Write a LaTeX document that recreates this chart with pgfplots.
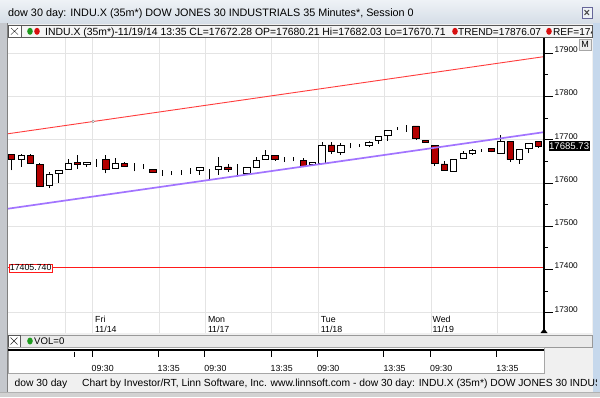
\documentclass[border=0pt]{standalone}
\usepackage{fontspec}
\setmainfont{Liberation Sans}
\usepackage{pgfplots}
\usepackage{pgfplotstable}
\pgfplotsset{compat=1.18}
\definecolor{gridc}{HTML}{E4E4E4}
\definecolor{candred}{HTML}{B30000}
\definecolor{trendred}{HTML}{FF3C3C}
\definecolor{purp}{HTML}{A274FF}
\definecolor{refline}{HTML}{FF1A1A}
\definecolor{winbg}{HTML}{F0F0F0}
\definecolor{titletop}{HTML}{EEF2F6}
\definecolor{titlebot}{HTML}{D6DEE7}
\definecolor{legbg}{HTML}{F5F5F5}
\definecolor{volbg}{HTML}{EAEAEA}
\definecolor{leftc}{HTML}{C5C8CD}
\definecolor{rightc}{HTML}{C6D8EC}
\definecolor{dotgreen}{HTML}{1E9A1E}
\definecolor{dotred}{HTML}{D81010}
\newcommand\fs[1]{\fontsize{#1}{#1}\selectfont}

% bars with close >= open (white) : i open high low close
\pgfplotstableread{
i o h l c
1 17654 17667 17637 17663
4 17594 17625 17588 17621
5 17623 17631 17600 17629
6 17632 17655 17631 17646
8 17644 17649 17638 17648
9 17655 17655 17637 17655
11 17634 17658 17634 17646
13 17637 17646 17627 17637
14 17637 17645 17632 17637
16 17623 17629 17617 17623
17 17623 17628 17618 17623
18 17624 17629 17618 17624
19 17626 17634 17621 17626
20 17629 17636 17619 17636
21 17633 17633 17608 17633
22 17632 17659 17619 17638
24 17629 17644 17615 17629
25 17623 17636 17619 17636
26 17637 17661 17637 17652
27 17654 17677 17654 17663
29 17653 17659 17648 17653
30 17656 17661 17650 17656
32 17642 17649 17640 17648
33 17645 17695 17645 17688
35 17671 17692 17665 17686
36 17687 17692 17680 17687
37 17687 17690 17683 17687
38 17688 17696 17683 17695
39 17698 17709 17691 17708
40 17709 17721 17698 17721
41 17726 17730 17722 17726
42 17731 17734 17719 17731
47 17627 17656 17626 17655
48 17658 17673 17655 17669
49 17669 17678 17665 17675
50 17677 17679 17672 17677
52 17669 17711 17668 17696
54 17655 17679 17645 17678
55 17681 17693 17669 17692
}\upbars
% bars with close < open (red)
\pgfplotstableread{
i o h l c
0 17667 17667 17629 17654
2 17663 17667 17646 17646
3 17642 17646 17592 17592
7 17648 17664 17632 17643
10 17655 17665 17622 17632
12 17645 17649 17637 17638
15 17632 17633 17623 17624
23 17637 17644 17626 17631
28 17664 17665 17652 17655
31 17652 17658 17636 17638
34 17688 17695 17667 17672
43 17732 17732 17700 17702
44 17698 17698 17695 17695
45 17686 17689 17640 17646
46 17644 17650 17629 17629
51 17680.21 17682.03 17670.71 17672.28
53 17696 17698 17648 17654
56 17696 17698 17682 17685.73
}\dnbars

\pgfplotsset{
  base/.style={at={(8pt,-333pt)}, anchor=south west, scale only axis,
    width=536pt, height=295.5pt, xmin=-0.393, xmax=56.604,
    ymin=17253, ymax=17936.5},
  ov/.style={base, hide axis},
}

\begin{document}
\begin{tikzpicture}[x=1pt,y=1pt]
\useasboundingbox (0,0) rectangle (600,-397);
\clip (0,0) rectangle (600,-397);
\begin{scope}[y=-1pt]
\fill[winbg] (0,0) rectangle (600,397);
% title bar
\shade[top color=titletop, bottom color=titlebot] (0,0) rectangle (600,23);
\node[anchor=base west, inner sep=0pt] at (8,16.6) {\fs{10.8}dow 30 day: INDU.X (35m*) DOW JONES 30 INDUSTRIALS 35 Minutes*, Session 0};
\draw[fill=titletop, draw=gray!80!blue] (581.7,6.7) rectangle (591.7,18.3);
\draw[line width=1pt, gray!60!black] (584.5,10) -- (589,15) (589,10) -- (584.5,15);
% side strips
\fill[leftc] (0,23) rectangle (7.5,392);
\draw[gray] (7.5,23) -- (7.5,392);
\fill[rightc] (592.5,23) rectangle (600,397);
% legend bar
\draw[fill=legbg, draw=gray!70!black] (8,25) rectangle (592,37.5);
\draw[fill=white, draw=gray!70!black] (8,25) rectangle (21,37.5);
\draw[gray!30!black] (11,28) -- (18,34.5) (18,28) -- (11,34.5);
\fill[dotgreen] (30,31.3) ellipse (2.8 and 3.5);
\fill[dotred] (37,31.3) ellipse (2.8 and 3.5);
\node[anchor=base west, inner sep=0pt] at (45,35) {\fs{10.4}INDU.X (35m*)-11/19/14 13:35 CL=17672.28 OP=17680.21 Hi=17682.03 Lo=17670.71};
\fill[dotred] (455,31.3) ellipse (2.8 and 3.5);
\node[anchor=base west, inner sep=0pt] at (458,35) {\fs{10.1}TREND=17876.07};
\fill[dotred] (549,31.3) ellipse (2.8 and 3.5);
\begin{scope}
\clip (8,25) rectangle (591.5,37.5);
\node[anchor=base west, inner sep=0pt] at (553,35) {\fs{10.1}REF=17405.74};
\end{scope}
% chart background
\fill[white] (8,37.8) rectangle (592.3,333);
\end{scope}

% ---- main axis: grid, right price axis, wicks
\begin{axis}[base,
  axis line style={draw=none},
  scaled y ticks=false,
  ytick={17300,17500,17600,17700,17800,17900}, minor ytick={17350,17450,17550,17650,17750,17850},
  extra y ticks={17400}, extra y tick style={grid=none},
  ytick pos=right, yticklabel pos=right, tick align=outside,
  major tick length=9pt, minor tick length=4pt,
  ytick style={black, line width=0.9pt},
  yticklabel={\pgfmathprintnumber[assume math mode=true,1000 sep={},fixed,precision=0]{\tick}},
  yticklabel style={font=\fs{8.3}, anchor=south west, inner sep=0pt, xshift=1.5pt, yshift=0.3pt},
  xtick={5.668,8.539,15.66,20.55,27.57,32.57,39.59,44.59,51.61},
  xticklabel={}, xtick style={draw=none},
  ymajorgrids, xmajorgrids, grid style={gridc, line width=0.9pt},
  clip=false]
\addplot [draw=none, mark=none, forget plot, error bars/.cd, y dir=plus, y explicit,
  error mark=none, error bar style={black, line width=0.9pt}]
  table [x=i, y=l, y error expr={\thisrow{h}-\thisrow{l}}] {\upbars};
\addplot [draw=none, mark=none, forget plot, error bars/.cd, y dir=plus, y explicit,
  error mark=none, error bar style={black, line width=0.9pt}]
  table [x=i, y=l, y error expr={\thisrow{h}-\thisrow{l}}] {\dnbars};
\end{axis}
% ---- white bodies
\begin{axis}[ov, ybar stacked, bar width=6.4pt]
\addplot [draw=none, fill=none] table [x=i, y expr={min(\thisrow{o},\thisrow{c})}] {\upbars};
\addplot [draw=black, fill=white, line width=0.8pt] table [x=i, y expr={abs(\thisrow{c}-\thisrow{o})}] {\upbars};
\end{axis}
% ---- red bodies
\begin{axis}[ov, ybar stacked, bar width=6.4pt]
\addplot [draw=none, fill=none] table [x=i, y expr={min(\thisrow{o},\thisrow{c})}] {\dnbars};
\addplot [draw=black, fill=candred, line width=0.8pt] table [x=i, y expr={abs(\thisrow{c}-\thisrow{o})}] {\dnbars};
\end{axis}
% ---- lines and markers
\begin{axis}[ov, clip=false]
\addplot [color=refline, mark=none, line width=1.15pt] coordinates {(-0.393,17405.74) (56.604,17405.74)};
\addplot [color=trendred, mark=none, line width=0.9pt] coordinates {(-0.393,17714.3) (56.604,17892.7)};
\addplot [only marks, mark=*, mark size=1.3pt, draw=gray, fill=white] coordinates {(8.66,17743)};
\addplot [color=purp, mark=none, line width=1.7pt] coordinates {(-0.393,17541) (56.604,17718)};
\node[anchor=west, draw=refline, fill=white, inner sep=0.9pt, font=\fs{8.8}, line width=0.8pt] at (axis cs:-0.393,17405.74) [xshift=0.6pt, yshift=-0.8pt] {17405.740};
\fill[dotgreen] (axis cs:56.604,17685.73) ++(-4pt,0) -- ++(8.5pt,5pt) -- ++(0,-10pt) -- cycle;
\node[anchor=west, fill=black, text=white, inner sep=0.6pt, minimum height=10pt, font=\fs{9.6}] at (axis cs:56.604,17685.73) [xshift=4.3pt] {17685.73};
\end{axis}

\begin{scope}[y=-1pt]
% right axis line and bottom arrow
\draw[black, line width=1.2pt] (544,37.8) -- (544,333);
\fill[black] (540.5,333) -- (544,328.5) -- (547.5,333) -- cycle;
% M button
\draw[fill=gray!15, draw=gray!70] (579,39) rectangle (591,50.5);
\node[inner sep=0pt] at (585,44.8) {\fs{9}M};
% day labels
\foreach \x/\d/\dt in {95/Fri/11\slash 14, 207.8/Mon/11\slash 17, 320.7/Tue/11\slash 18, 432.4/Wed/11\slash 19}{
  \node[anchor=base west, inner sep=0pt] at (\x,322.2) {\fs{8.8}\d};
  \node[anchor=base west, inner sep=0pt] at (\x,332) {\fs{8.8}\dt};
}
% VOL bar
\draw[fill=volbg, draw=gray!80] (8,335) rectangle (592,347);
\draw[fill=white, draw=gray!70!black] (8,335) rectangle (20,347);
\draw[gray!30!black] (10.5,337.5) -- (17.5,344.5) (17.5,337.5) -- (10.5,344.5);
\fill[dotgreen] (30,341) ellipse (2.8 and 3.5);
\node[anchor=base west, inner sep=0pt] at (34,344.3) {\fs{9.6}VOL=0};
% bottom time panel
\fill[white] (8,347) rectangle (544,373);
\draw[gray!70] (8,347) rectangle (544,373);
\draw[black, line width=2pt] (8,349.5) -- (544,349.5);
\draw[black, line width=0.9pt] (74,351.5) -- (74,357.3);
\foreach \x/\t in {92/09:30, 158/13:35, 204.7/09:30, 271/13:35, 317.6/09:30, 383.9/13:35, 430.5/09:30, 496.7/13:35}{
  \draw[black, line width=0.9pt] (\x,350.3) -- (\x,357.3);
  \node[anchor=base west, inner sep=0pt] at (\x-0.5,371.2) {\fs{8.8}\t};
}
% footer
\fill[winbg] (7.5,373.5) rectangle (592.5,392);
\node[anchor=base west, inner sep=0pt] at (14.5,386.8) {\fs{10.3}dow 30 day};
\begin{scope}
\clip (80,373.5) rectangle (596,392);
\node[anchor=base west, inner sep=0pt] at (82,386.8) {\fs{10.3}Chart by Investor/RT, Linn Software, Inc. www.linnsoft.com - dow 30 day: INDU.X (35m*) DOW JONES 30 INDUSTRIALS 35 Minutes*, Session 0};
\end{scope}
\fill[gray!35] (0,392) rectangle (600,397);
\draw[gray!60] (0,392) -- (600,392);
\end{scope}
\end{tikzpicture}
\end{document}
